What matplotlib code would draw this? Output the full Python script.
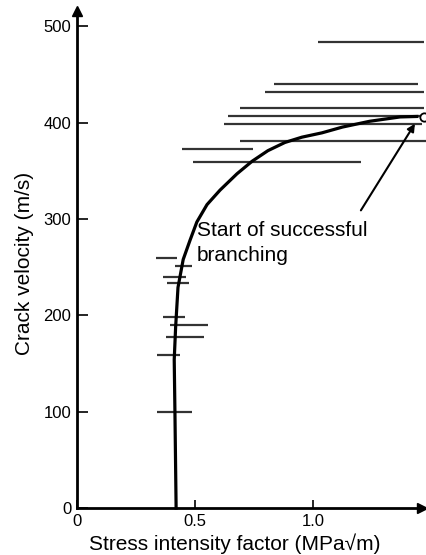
import matplotlib
matplotlib.use("Agg")
import matplotlib.pyplot as plt

plt.rcParams['font.family'] = ['Liberation Sans', 'DejaVu Sans']

# Fitted K-v curve
curve_k = [0.420, 0.415, 0.412, 0.418, 0.428, 0.450, 0.479, 0.508, 0.551, 0.606,
           0.678, 0.742, 0.809, 0.881, 0.953, 1.038, 1.125, 1.240, 1.369, 1.440]
curve_v = [0, 100, 154, 188, 229, 258, 278, 297, 315, 330,
           347, 360, 371, 379.5, 385, 389.5, 395.5, 401.5, 406, 406.5]

# Measured ranges of K at each crack velocity
bar_v = [484, 440, 432, 415, 407, 399, 381, 373, 359,
         260, 251, 240, 234, 198, 190, 178, 159, 100]
bar_klo = [1.021, 0.835, 0.797, 0.691, 0.640, 0.623, 0.691, 0.445, 0.492,
           0.335, 0.415, 0.364, 0.381, 0.364, 0.394, 0.377, 0.339, 0.339]
bar_khi = [1.470, 1.445, 1.470, 1.470, 1.470, 1.462, 1.490, 0.746, 1.203,
           0.424, 0.487, 0.462, 0.475, 0.458, 0.555, 0.538, 0.436, 0.487]

# Branching onset point
branch_k, branch_v = 1.47, 406

xticks = [0, 0.5, 1.0]
xtick_labels = ['0', '0.5', '1.0']
yticks = [0, 100, 200, 300, 400, 500]

fig = plt.figure(figsize=(4.27, 5.55), dpi=100)
ax = fig.add_axes([77 / 427, 47 / 555, 345 / 427, 497 / 555])

ax.hlines(bar_v, bar_klo, bar_khi, colors='#333333', linewidth=1.6, clip_on=False, zorder=2)
ax.plot(curve_k, curve_v, color='black', linewidth=2.3, clip_on=False, zorder=3,
        solid_joinstyle='round')
ax.plot(branch_k, branch_v, marker='o', markersize=6, markerfacecolor='white',
        markeredgecolor='black', markeredgewidth=1.3, clip_on=False, zorder=4)

ax.set_xlim(0, 1.462)
ax.set_ylim(0, 516)

for side in ['top', 'right']:
    ax.spines[side].set_visible(False)
for side in ['left', 'bottom']:
    ax.spines[side].set_linewidth(2)

# Arrow heads on the axes
ax.plot(1, 0, '>k', markersize=7, transform=ax.transAxes, clip_on=False)
ax.plot(0, 1, '^k', markersize=7, transform=ax.transAxes, clip_on=False)

ax.set_yticks(yticks)
ax.set_xticks(xticks)
ax.set_xticklabels(xtick_labels)
ax.tick_params(axis='y', direction='in', length=8, width=1.2, labelsize=12, pad=4)
ax.tick_params(axis='x', direction='in', length=6, width=1.2, labelsize=12, pad=4)

ax.set_xlabel('Stress intensity factor (MPa\u221am)', fontsize=15)
ax.set_ylabel('Crack velocity (m/s)', fontsize=15)
ax.xaxis.set_label_coords(0.456, -0.052)
ax.yaxis.set_label_coords(-0.126, 0.492)

ax.text(0.508, 298, 'Start of successful\nbranching', fontsize=15, ha='left', va='top',
        linespacing=1.4)
ax.annotate('', xy=(1.432, 399), xytext=(1.203, 309),
            arrowprops=dict(arrowstyle='-|>', color='black', linewidth=1.5,
                            mutation_scale=11, shrinkA=0, shrinkB=0),
            annotation_clip=False)

fig.savefig('out.png', dpi=100)
